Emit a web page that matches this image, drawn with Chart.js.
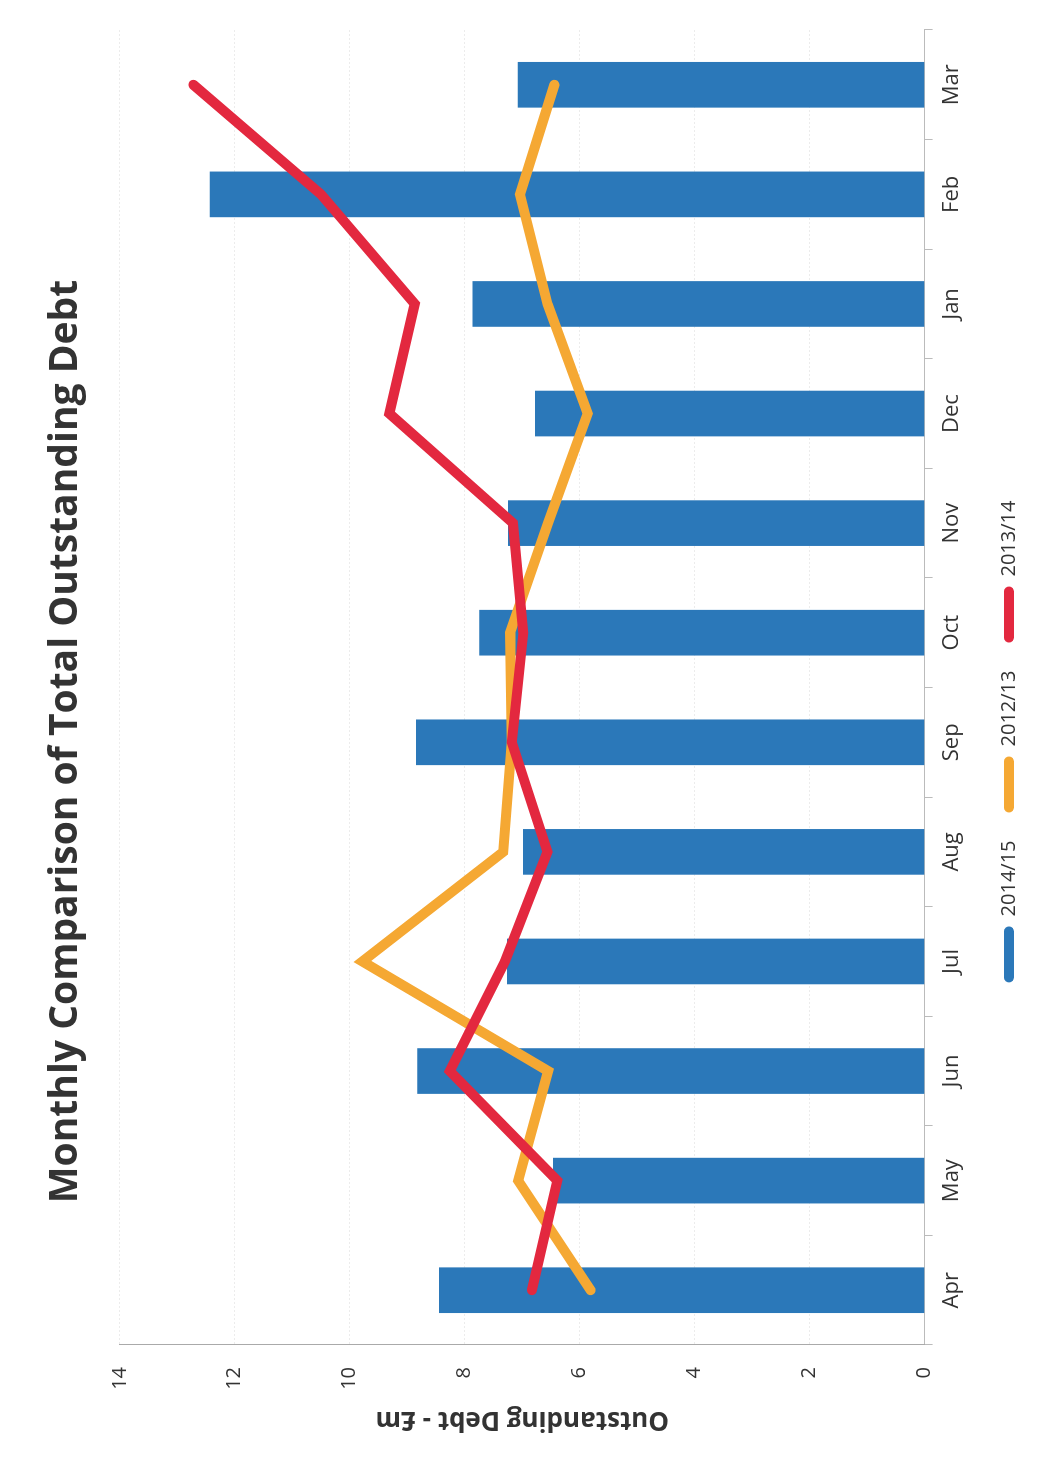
<!DOCTYPE html>
<html>
<head>
<meta charset="utf-8">
<script src="https://cdn.jsdelivr.net/npm/chart.js@4.4.1/dist/chart.umd.min.js"></script>
<style>
    html, body { margin: 0; padding: 0; background: #fff; }
    body { width: 1045px; height: 1483px; overflow: hidden; position: relative; }
    /* the scanned page is turned a quarter to the left */
    #page {
        position: absolute; left: 0; top: 0;
        width: 1483px; height: 1045px;
        transform-origin: 0 0;
        transform: translate(0, 1483px) rotate(-90deg);
    }
</style>
</head>
<body>
<div id="page"><canvas id="debtChart" width="1483" height="1045"></canvas></div>
<script>
const months = ['Apr', 'May', 'Jun', 'Jul', 'Aug', 'Sep', 'Oct', 'Nov', 'Dec', 'Jan', 'Feb', 'Mar'];
const debt201415 = [8.44, 6.46, 8.82, 7.26, 6.98, 8.84, 7.74, 7.24, 6.77, 7.86, 12.43, 7.07];
const debt201213 = [5.81, 7.07, 6.55, 9.78, 7.33, 7.18, 7.21, 6.55, 5.86, 6.56, 7.04, 6.44];
const debt201314 = [6.83, 6.39, 8.26, 7.30, 6.56, 7.18, 6.98, 7.16, 9.31, 8.87, 10.50, 12.72];

const fontName = "'Open Sans', 'DejaVu Sans', sans-serif";

const ctx = document.getElementById('debtChart').getContext('2d');
const debtChart = new Chart(ctx, {
    type: 'bar',
    data: {
        labels: months,
        datasets: [{
            label: '2014/15',
            data: debt201415,
            backgroundColor: '#2b78b9',
            barThickness: 45,
            order: 2
        }, {
            type: 'line',
            label: '2012/13',
            data: debt201213,
            borderColor: '#f5a833',
            backgroundColor: '#f5a833',
            borderWidth: 10,
            borderCapStyle: 'round',
            pointRadius: 0,
            tension: 0,
            order: 1
        }, {
            type: 'line',
            label: '2013/14',
            data: debt201314,
            borderColor: '#e3283f',
            backgroundColor: '#e3283f',
            borderWidth: 10,
            borderCapStyle: 'round',
            pointRadius: 0,
            tension: 0,
            order: 0
        }]
    },
    options: {
        responsive: false,
        animation: false,
        layout: { padding: { left: 30, right: 30, top: 0, bottom: 16 } },
        plugins: {
            title: {
                display: true,
                text: 'Monthly Comparison of Total Outstanding Debt',
                color: '#333',
                font: { family: fontName, size: 39, weight: 'bold' },
                padding: { top: 42, bottom: 31 }
            },
            legend: {
                position: 'bottom',
                labels: {
                    color: '#333',
                    font: { family: fontName, size: 20 },
                    boxWidth: 56,
                    boxHeight: 10,
                    padding: 28,
                    useBorderRadius: true,
                    borderRadius: 5,
                    sort: (a, b) => a.datasetIndex - b.datasetIndex,
                    generateLabels: chart => Chart.defaults.plugins.legend.labels.generateLabels(chart)
                        .map(item => Object.assign(item, { lineWidth: 0 }))
                }
            },
            tooltip: { enabled: false }
        },
        scales: {
            x: {
                grid: { drawOnChartArea: false, drawTicks: true, tickLength: 8, color: '#bbb' },
                border: { color: '#bbb' },
                ticks: { color: '#333', font: { family: fontName, size: 22 }, padding: 6 }
            },
            y: {
                min: 0,
                max: 14,
                ticks: { stepSize: 2, color: '#333', font: { family: fontName, size: 20 }, padding: 22 },
                grid: { color: '#ececec', drawTicks: false },
                border: { color: '#aaa', dash: [2, 2] },
                title: {
                    display: true,
                    text: 'Outstanding Debt - £m',
                    color: '#333',
                    font: { family: fontName, size: 26, weight: 'bold' },
                    padding: { top: 18, bottom: 0 }
                },
                afterFit: scale => { scale.width = 108; }
            }
        }
    }
});
</script>
</body>
</html>
